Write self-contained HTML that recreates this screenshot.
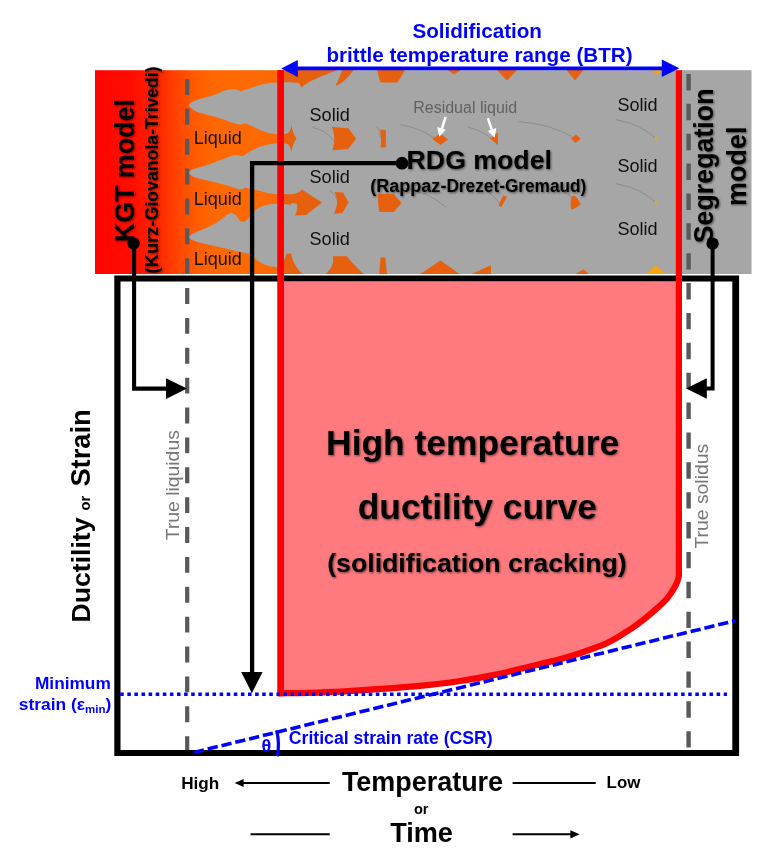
<!DOCTYPE html>
<html>
<head>
<meta charset="utf-8">
<title>High temperature ductility curve</title>
<style>
html,body{margin:0;padding:0;background:#fff;}
body{width:775px;height:860px;overflow:hidden;font-family:"Liberation Sans",sans-serif;}
svg{display:block;position:absolute;left:0;top:0;will-change:transform;}
text{font-family:"Liberation Sans",sans-serif;}
.b{font-weight:bold;}
.blue{fill:#0000ff;}
.sh{filter:drop-shadow(1.2px 1.6px 1.3px rgba(0,0,0,0.55));}
</style>
</head>
<body>
<svg width="775" height="860" viewBox="0 0 775 860">
<defs>
  <linearGradient id="bandg" gradientUnits="userSpaceOnUse" x1="95" y1="0" x2="281" y2="0">
    <stop offset="0" stop-color="#ff0500"/>
    <stop offset="0.2" stop-color="#ff0e00"/>
    <stop offset="0.33" stop-color="#ff2400"/>
    <stop offset="0.43" stop-color="#ff4000"/>
    <stop offset="0.53" stop-color="#ff5a00"/>
    <stop offset="0.64" stop-color="#ff6800"/>
    <stop offset="1" stop-color="#fb6904"/>
  </linearGradient>
</defs>

<!-- ================= TOP BAND ================= -->
<g id="band">
  <rect x="95" y="70.2" width="186" height="203.8" fill="url(#bandg)"/>
  <rect x="280.6" y="70.2" width="12" height="203.8" fill="#e6600d"/>
  <!-- grey solid mass -->
  <rect x="291" y="70.2" width="460.5" height="203.8" fill="#a6a6a6"/>
  <g id="dendrites" fill="#a6a6a6">
    <!-- dendrite 1 -->
    <path d="M188.5,105 C190,102.5 194,100.8 200,99 C206,97.3 212,96.3 218,93.6 C222,91.6 226,89.6 232,89.3 C236,89.2 238.5,90 240.5,91.4 C243.5,90.6 247,89.2 252,87.6 C257,85.8 261,84.6 266,83.6 C271,82.8 276,82.4 282,82.3 L300,82.3 L300,131 L292,131 C289,133.6 284,134.6 278,134.5 C273,134.2 268,133 264,131.5 C260,130 257,128.5 254,127 C251,125.5 248,124 244.5,123.2 C242,124.6 240,124.8 237.5,124.2 C234,123.3 231,122.2 228,121.2 C222,119 217,117.4 212,116.1 C206,114.5 200,113.2 195.5,111.2 C192,109.4 189.6,107.3 188.5,105 Z"/>
    <!-- dendrite 2 -->
    <path d="M188.5,172.5 C190,170.2 193,169 196,168.2 C202,166.6 208,165 213,163 C219,160.7 224,158.4 229,157 C232,155.6 235,154.8 238,155.2 C240,155.5 241.5,156 242.8,156.2 C246,154.4 249,152 253,149.8 C257,147.6 261,146.3 265,145.3 C270,144 275,143.1 281,143 L292,144.6 L300,146 L300,195.3 L281,194.6 C276,194.3 271,193.7 267,193 C262,191.6 258,190.5 254,189.8 C250,189 247,188.2 244.5,187.8 C242.5,189.2 240.5,189.6 238,189.1 C235,188.3 232,187 229,186 C223,184.2 218,183 213,181.8 C207,180.4 201,179.3 196,177.8 C192.5,176.6 190,174.8 188.5,172.5 Z"/>
    <!-- dendrite 3 -->
    <path d="M188.5,237.5 C190,235 192.5,233.6 196,232.2 C202,229.8 207,227.6 212.5,225 C217,222.6 221,219.4 225,216.4 C227.5,214.4 229.5,213 231.5,213 C234,213.2 236,215.4 237.8,217.8 C239.2,219.8 240.2,221.4 241.4,222 C243.6,221.8 245.6,220.8 247.5,219.4 C249.5,217.4 251,215 252.8,212.4 C255.5,209.4 259,207.4 262.5,206.2 C267,204.6 271,203.9 275,203.7 L290,204.4 L300,206 L300,258 L291,252 C290,256 289.6,260 288,263 C286,266 281,267.4 275,267 C270,266.4 266,265.4 262.5,263.8 C259,262 256.6,260 255,258.6 C253.4,256.4 252.4,254.6 250.8,253.8 C247,253.2 243.4,252.8 240,252 C236,251.2 233,250.3 230,249.5 C224,248 218,246.7 212.5,245.5 C206,244.2 200,243.2 195.5,241.3 C192,240 189.8,239 188.5,237.5 Z"/>
  </g>
  <g id="arcs" fill="none" stroke="#4d4d4d" stroke-width="0.9" stroke-opacity="0.32" stroke-linecap="round">
    <path d="M313,127.6 Q326,130 334,141"/>
    <path d="M377,126.5 Q380.4,130 380.6,137"/>
    <path d="M400,124.6 Q420,128 433.6,137.6"/>
    <path d="M468,127 Q482,130.4 492,139"/>
    <path d="M519,121.6 Q550,124 571.6,136.4"/>
    <path d="M616.6,119.8 Q640,124 655,137.6"/>
    <path d="M616.6,183.8 Q640,188 655,201.6"/>
    <path d="M482,188.4 Q492,193 499.6,203.4"/>
    <path d="M405,188 Q428,192 446,207"/>
    <path d="M560,190 Q568,192 571.4,198"/>
    <path d="M330,190.6 Q336.4,195 338,202"/>
  </g>
  <g id="orangebits" fill="#e6600d">
    <!-- top row -->
    <path d="M291,70 L337,70 C330,73.2 318,77.2 310,81.6 C306,84 303,86 301,87.4 C300.6,85.4 300,84 299,82.9 L291,82.3 Z"/>
    <path d="M342,70 L353.5,70 C350,75 346,79.5 342,82.5 C339.5,84.2 337.5,85.2 335.5,85.8 C338,81 340.4,75.6 342,70 Z"/>
    <path d="M377.3,70 L405,70 C402.5,74.6 400,78.6 397.4,82.4 L380.6,82.4 C379.2,78.4 378,74.4 377.3,70 Z"/>
    <path d="M447.7,70 L460.6,70 L454.2,74.4 Z"/>
    <path d="M497,70 L517,70 L507,80.6 Z"/>
    <path d="M566.5,70 L583.5,70 L575,80.6 Z"/>
    <path d="M651.7,70 L663,70 L657.4,75 Z" fill="#f2a516"/>
    <!-- row 1 : fishtail, pentagon, bar, diamonds -->
    <path d="M280,135.6 L284.5,135.4 C288.6,134 291,130.4 291.4,125 C292.2,130.6 294,135.2 296.5,138.6 C294,142 292.2,146.6 291.2,152.2 C290.8,146.8 288.6,143.4 284.5,142.2 L280,142 Z"/>
    <path d="M331.8,127 L348.2,128.2 L356.2,138.6 L348.2,149 L332.4,150.2 C335.2,142.4 335,134.6 331.8,127 Z"/>
    <path d="M380.2,129.6 L385.8,130.2 L385.8,147.4 L380.6,147.6 C381.4,141.4 381.2,135.4 380.2,129.6 Z"/>
    <path d="M432.4,139 L440.4,133.4 L448,139.4 L440.6,145 Z"/>
    <path d="M490.2,138.6 L497.8,132.4 L498,145.2 Z"/>
    <path d="M570.8,138.6 L576,134.4 L580.8,138.8 L575.6,143 Z"/>
    <rect x="654.6" y="137.4" width="2.6" height="2.8" fill="#f2a516"/>
    <!-- row 2 : arrow, chevron, pentagon -->
    <path d="M280,193.6 C286,194.6 291,194.6 295,193.8 C298.4,193 300.6,191.4 301.8,189.6 L322,202.5 L306,215 L294.9,215.5 C297.2,211.6 297.8,207.4 296.8,203.6 C292,203 286,203.2 280,204.2 Z"/>
    <path d="M334.6,192 L343,192.4 L348.6,202.5 L342.3,213 L334,213.7 C337.4,206.4 338.6,199.4 334.6,192 Z"/>
    <path d="M378.2,194 L393.6,194 L401.6,203 L393.6,212 L379.4,212 C378.2,206 377.8,200 378.2,194 Z"/>
    <path d="M503.2,195.6 L507,196.8 L501.4,207 L498.4,205.4 Z"/>
    <path d="M571.6,196.4 C574,195.4 576.4,196.4 577.6,198.6 L580.8,204.2 C578,206.6 574.6,208.6 571.2,209.8 C570.4,205.4 570.4,200.8 571.6,196.4 Z"/>
    <rect x="654.6" y="201.4" width="2.6" height="2.8" fill="#f2a516"/>
    <!-- bottom row -->
    <path d="M280,263.4 C283.4,262 285.6,258.4 286.5,253.4 L291.4,253.7 C292.2,261.4 296,268 302.6,274 L280,274 Z"/>
    <path d="M332.7,256.3 L346.8,256.3 C351,261.6 357,268 363.8,274 L325.4,274 C331,269.4 334.6,263.6 332.7,256.3 Z"/>
    <path d="M380.6,257.6 L385.3,257.6 L387,274 L379.2,274 Z"/>
    <path d="M420.2,274 L440.6,260.4 L459.6,274 Z"/>
    <path d="M471.6,274 L491,265.2 L491,274 Z"/>
    <path d="M575,274 L583.6,269.4 L589,274 Z"/>
    <path d="M646,274 L655.8,265 L666,274 Z" fill="#f2a516"/>
  </g>
</g>

<!-- ================= PLOT BOX ================= -->
<g id="plot">
  <!-- red filled curve -->
  <path d="M280.7,282 L280.7,693.3 C285.1,693.2 296.7,693.1 307.4,692.8 C318.1,692.5 332.4,692.0 344.9,691.3 C357.4,690.6 369.8,689.7 382.3,688.8 C394.8,687.9 407.2,687.1 419.7,685.9 C432.1,684.7 444.5,683.3 457.0,681.5 C469.5,679.7 482.0,677.5 494.5,674.9 C507.0,672.3 521.0,668.6 532.0,666.0 C543.0,663.4 552.4,661.2 560.6,659.0 C568.8,656.8 573.8,655.3 581.3,652.7 C588.8,650.1 599.8,646.2 605.8,643.6 C611.8,641.0 612.2,640.6 617.4,637.4 C622.6,634.2 631.2,628.8 637.2,624.5 C643.2,620.2 648.3,615.9 653.2,611.6 C658.1,607.3 663.1,603.0 666.8,598.7 C670.5,594.4 673.5,589.6 675.5,585.8 C677.5,582.0 678.4,578.6 678.9,576.0 L678.9,282 Z" fill="#ff7a7e" stroke="none"/>
  <!-- black box -->
  <path d="M114.3,275.5 H739.1 V756.1 H114.3 Z M120.5,281.5 V749.9 H732.3 V281.5 Z" fill="#000" fill-rule="evenodd"/>
  <!-- red outline on top of box -->
  <path d="M280.7,70.2 L280.7,693.3 C285.1,693.2 296.7,693.1 307.4,692.8 C318.1,692.5 332.4,692.0 344.9,691.3 C357.4,690.6 369.8,689.7 382.3,688.8 C394.8,687.9 407.2,687.1 419.7,685.9 C432.1,684.7 444.5,683.3 457.0,681.5 C469.5,679.7 482.0,677.5 494.5,674.9 C507.0,672.3 521.0,668.6 532.0,666.0 C543.0,663.4 552.4,661.2 560.6,659.0 C568.8,656.8 573.8,655.3 581.3,652.7 C588.8,650.1 599.8,646.2 605.8,643.6 C611.8,641.0 612.2,640.6 617.4,637.4 C622.6,634.2 631.2,628.8 637.2,624.5 C643.2,620.2 648.3,615.9 653.2,611.6 C658.1,607.3 663.1,603.0 666.8,598.7 C670.5,594.4 673.5,589.6 675.5,585.8 C677.5,582.0 678.4,578.6 678.9,576.0 L678.9,70.2" fill="none" stroke="#ff0000" stroke-width="6.2" stroke-linejoin="miter"/>
  <line x1="280.7" y1="70.2" x2="280.7" y2="694" stroke="#ff0000" stroke-width="6.5"/>
  <!-- grey dashed lines -->
  <line x1="187.2" y1="79" x2="187.2" y2="750" stroke="#595959" stroke-width="4.2" stroke-dasharray="15.9 13.97"/>
  <line x1="688.6" y1="74" x2="688.6" y2="749" stroke="#595959" stroke-width="4.4" stroke-dasharray="16.4 13.47"/>
  <!-- blue dotted (min strain) -->
  <line x1="120.2" y1="694.2" x2="727" y2="694.2" stroke="#0000ff" stroke-width="3.6" stroke-dasharray="3.55 3.55"/>
  <!-- blue dashed (CSR) -->
  <line x1="193.9" y1="752.4" x2="735.7" y2="620.6" stroke="#0000ff" stroke-width="3.6" stroke-dasharray="10.3 3.9"/>
  <!-- theta arc -->
  <path d="M276.6,730.4 Q279.8,743 277.4,756.3" fill="none" stroke="#0000ff" stroke-width="3.2"/>
  <!-- KGT connector -->
  <circle cx="133.6" cy="243.4" r="6.2" fill="#000"/>
  <path d="M134.1,243 L134.1,388.6 L168,388.6" fill="none" stroke="#000" stroke-width="4.1"/>
  <path d="M187,388.6 L166,378.2 L166,399 Z" fill="#000"/>
  <!-- RDG connector -->
  <circle cx="402" cy="163.2" r="6.4" fill="#000"/>
  <path d="M402,163.2 L252.1,163.2 L252.1,674" fill="none" stroke="#000" stroke-width="4.3"/>
  <path d="M251.9,693.2 L241.2,672 L262.6,672 Z" fill="#000"/>
  <!-- Segregation connector -->
  <circle cx="712.6" cy="243.7" r="6.2" fill="#000"/>
  <path d="M712.6,243.7 L712.6,388.5 L705,388.5" fill="none" stroke="#000" stroke-width="4"/>
  <path d="M686,388.5 L706.8,378.3 L706.8,398.7 Z" fill="#000"/>
  <!-- BTR double arrow -->
  <line x1="296" y1="68.4" x2="664" y2="68.4" stroke="#0000ff" stroke-width="3.7"/>
  <path d="M281.2,68.4 L297.8,59.9 L297.8,76.9 Z" fill="#0000ff"/>
  <path d="M679.4,68.3 L661.8,59.6 L661.8,77 Z" fill="#0000ff"/>
  <!-- bottom axis arrows -->
  <g stroke="#000" stroke-width="2" fill="#000">
    <line x1="241" y1="783.1" x2="329.7" y2="783.1"/>
    <path d="M234.6,783.1 L243.6,779.1 L243.6,787.1 Z" stroke="none"/>
    <line x1="512.6" y1="783.1" x2="595.7" y2="783.1"/>
    <line x1="250.6" y1="834.3" x2="329.7" y2="834.3"/>
    <line x1="512.6" y1="834.3" x2="572" y2="834.3"/>
    <path d="M579.6,834.3 L570.4,830.2 L570.4,838.4 Z" stroke="none"/>
  </g>
</g>

<!-- ================= LABELS ================= -->
<g id="labels">
  <!-- title -->
  <text class="b blue" x="477.2" y="37.8" font-size="20.65" text-anchor="middle">Solidification</text>
  <text class="b blue" x="479.5" y="62.4" font-size="20.65" text-anchor="middle">brittle temperature range (BTR)</text>
  <!-- band labels -->
  <g font-size="18" fill="#111">
    <text x="193.8" y="144.1">Liquid</text>
    <text x="193.8" y="205.3">Liquid</text>
    <text x="193.8" y="265.3">Liquid</text>
  </g>
  <g font-size="18.1" fill="#111">
    <text x="309.5" y="120.8">Solid</text>
    <text x="309.5" y="182.7">Solid</text>
    <text x="309.5" y="244.6">Solid</text>
    <text x="617.4" y="111.1">Solid</text>
    <text x="617.4" y="172.1">Solid</text>
    <text x="617.4" y="235.2">Solid</text>
  </g>
  <text x="413.2" y="112.8" font-size="16" fill="#626262">Residual liquid</text>
  <g stroke="#fff" stroke-width="2.5" fill="#fff">
    <line x1="445.6" y1="116.8" x2="441.6" y2="129.6"/>
    <path d="M439.3,136.7 L437.2,127 L445.8,129.7 Z" stroke="none"/>
    <line x1="487.8" y1="118.2" x2="492.2" y2="130.8"/>
    <path d="M494.6,137.8 L487.9,130.9 L496.3,128 Z" stroke="none"/>
  </g>
  <g class="sh">
    <text class="b" x="406.6" y="168.6" font-size="26.7">RDG model</text>
    <text class="b" x="370.3" y="192.4" font-size="17.6" textLength="76.1" lengthAdjust="spacingAndGlyphs">(Rappaz-</text>
    <text class="b" x="446.4" y="192.4" font-size="17.6" textLength="58.6" lengthAdjust="spacingAndGlyphs">Drezet-</text>
    <text class="b" x="505" y="192.4" font-size="17.6" textLength="81.2" lengthAdjust="spacingAndGlyphs">Gremaud)</text>
  </g>
  <g class="sh">
    <text class="b" font-size="26.8" transform="translate(134.4,241.9) rotate(-90)">KGT model</text>
    <text class="b" font-size="17.83" transform="translate(157.8,273.5) rotate(-90)" textLength="53.2" lengthAdjust="spacingAndGlyphs">(Kurz-</text>
    <text class="b" font-size="17.83" transform="translate(157.8,220.3) rotate(-90)" textLength="91.4" lengthAdjust="spacingAndGlyphs">Giovanola-</text>
    <text class="b" font-size="17.83" transform="translate(157.8,128.9) rotate(-90)" textLength="62.45" lengthAdjust="spacingAndGlyphs">Trivedi)</text>
  </g>
  <g class="sh">
    <text class="b" font-size="26.8" transform="translate(713.3,243.3) rotate(-90)">Segregation</text>
    <text class="b" font-size="27" transform="translate(746.1,205.9) rotate(-90)">model</text>
  </g>
  <!-- y axis label -->
  <text class="b" font-size="26.6" transform="translate(90.4,622.4) rotate(-90)">Ductility</text>
  <text class="b" font-size="14.7" transform="translate(90.4,510.4) rotate(-90)">or</text>
  <text class="b" font-size="27.3" transform="translate(90.4,486.6) rotate(-90)">Strain</text>
  <!-- rotated grey labels -->
  <text font-size="18.7" fill="#777" transform="translate(178.5,540.2) rotate(-90) scale(1.035,1)">True liquidus</text>
  <text font-size="18.6" fill="#777" transform="translate(707.8,548.5) rotate(-90) scale(1.04,1)">True solidus</text>
  <!-- main label -->
  <g class="sh">
    <text class="b" x="326.1" y="454.9" font-size="35.4">High temperature</text>
    <text class="b" x="357.8" y="519.3" font-size="35.27">ductility curve</text>
    <text class="b" x="327.2" y="572" font-size="26.7">(solidification cracking)</text>
  </g>
  <!-- min strain -->
  <text class="b blue" x="110.8" y="689" font-size="17.3" text-anchor="end">Minimum</text>
  <text class="b blue" x="111.3" y="709.6" font-size="17.4" text-anchor="end">strain (ε<tspan font-size="11.5" dy="3">min</tspan><tspan dy="-3">)</tspan></text>
  <!-- CSR -->
  <text class="b blue" x="261.6" y="751.5" font-size="18">θ</text>
  <text class="b blue" x="288.8" y="744.1" font-size="17.65">Critical strain rate (CSR)</text>
  <!-- x axis -->
  <text class="b" x="181.2" y="788.6" font-size="17.15">High</text>
  <text class="b" x="341.9" y="791.4" font-size="26.95">Temperature</text>
  <text class="b" x="606.6" y="787.6" font-size="16.9">Low</text>
  <text class="b" x="421.2" y="813.6" font-size="14.6" text-anchor="middle">or</text>
  <text class="b" x="390.2" y="841.6" font-size="27.1">Time</text>
</g>
</svg>
</body>
</html>
